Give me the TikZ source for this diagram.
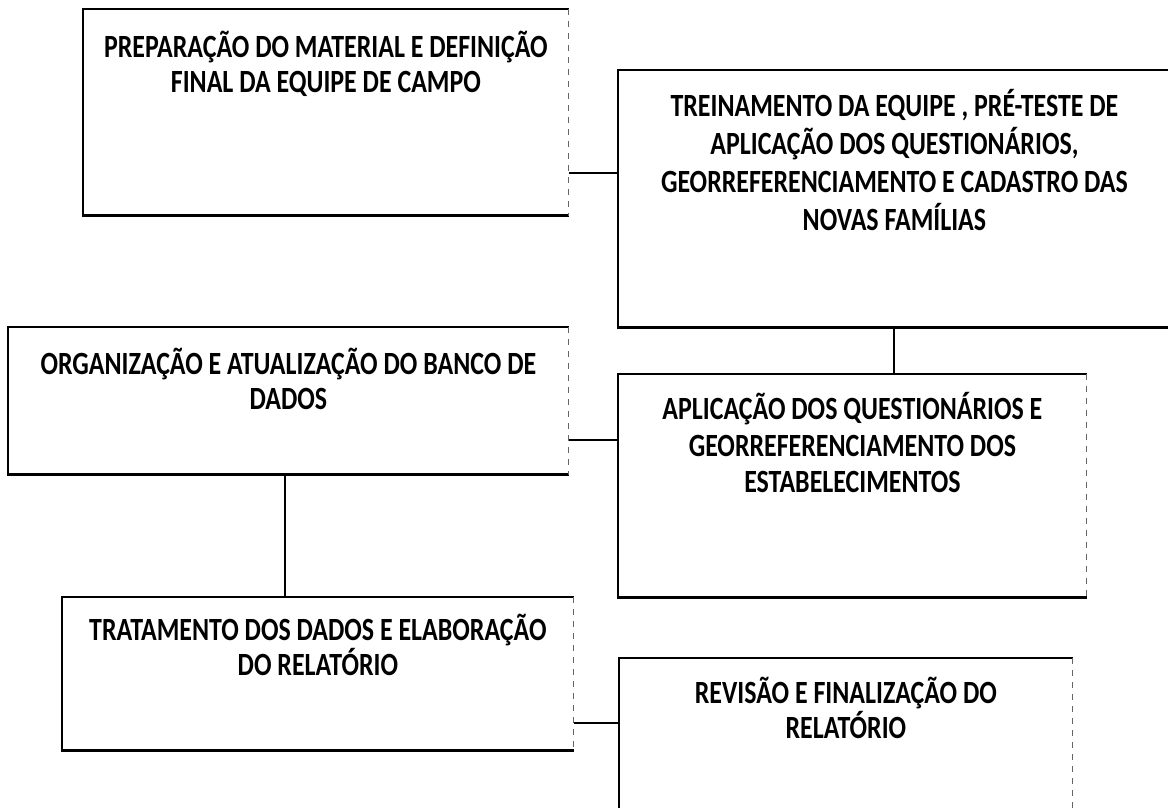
\documentclass[tikz,border=0pt]{standalone}
\usepackage{fontspec}
\setmainfont[FakeStretch=0.8]{Carlito}
\usepackage{tikz}
\usetikzlibrary{positioning}

\begin{document}
\begin{tikzpicture}[x=0.5pt, y=-0.5pt,
  font=\fontsize{16.2}{17.5}\selectfont\bfseries,
  stage/.style 2 args={draw=none, minimum width=#1*0.5pt, minimum height=#2*0.5pt, inner sep=0pt, anchor=north west},
  caption/.style={align=center, inner sep=0pt},
  rim/.style={line width=1.4pt, line join=miter},
  rimside/.style={line width=0.5pt, dashed, black!60},
  link/.style={line width=1pt},
]
\useasboundingbox (0,0) rectangle (1168,808);
\clip (0,0) rectangle (1168,808);
\node[stage={485}{206}] (b1) at (83,9) {};
\node[stage={552}{257}] (b2) at (618,70) {};
\node[stage={560}{147}] (b3) at (8,327) {};
\node[stage={468}{223}] (b4) at (618,374) {};
\node[stage={511}{153}] (b5) at (62,597) {};
\node[stage={453}{172}] (b6) at (619,658) {};
\foreach \b in {b1,b2,b3,b4,b5,b6} {
  \draw[rim] (\b.north east) -- (\b.north west) -- (\b.south west) -- (\b.south east);
  \draw[rimside] (\b.north east) -- (\b.south east);
}
\node[caption, below=11pt of b1.north] (t1) {PREPARAÇÃO DO MATERIAL E DEFINIÇÃO\\FINAL DA EQUIPE DE CAMPO};
\node[caption, below=9.5pt of b2.north, font=\fontsize{16.2}{18.9}\selectfont\bfseries] (t2) {TREINAMENTO DA EQUIPE , PRÉ-TESTE DE\\APLICAÇÃO DOS QUESTIONÁRIOS,\\GEORREFERENCIAMENTO E CADASTRO DAS\\NOVAS FAMÍLIAS};
\node[caption, below=10.5pt of b3.north] (t3) {ORGANIZAÇÃO E ATUALIZAÇÃO DO BANCO DE\\DADOS};
\node[caption, below=9pt of b4.north, font=\fontsize{16.2}{18.3}\selectfont\bfseries] (t4) {APLICAÇÃO DOS QUESTIONÁRIOS E\\GEORREFERENCIAMENTO DOS\\ESTABELECIMENTOS};
\node[caption, below=8.5pt of b5.north] (t5) {TRATAMENTO DOS DADOS E ELABORAÇÃO\\DO RELATÓRIO};
\node[caption, below=9.5pt of b6.north] (t6) {REVISÃO E FINALIZAÇÃO DO\\RELATÓRIO};
% connectors
\draw[link] (b1.south east) ++(0,-43) coordinate (j1) -- (j1 -| b2.west);
\draw[link] (b2.south) -- (b2.south |- b4.north);
\draw[link] (b3.south east) ++(0,-35) coordinate (j3) -- (j3 -| b4.west);
\draw[link] (b3.south west) ++(277,0) coordinate (j4) -- (j4 |- b5.north);
\draw[link] (b5.south east) ++(0,-28) coordinate (j5) -- (j5 -| b6.west);
\end{tikzpicture}
\end{document}
